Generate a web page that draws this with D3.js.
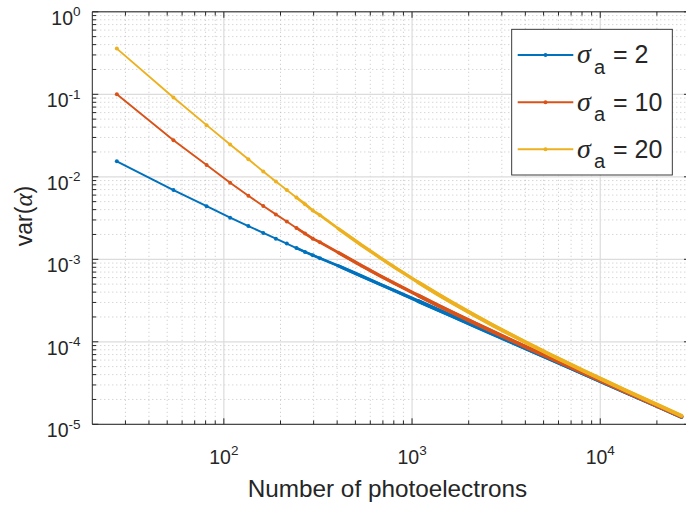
<!DOCTYPE html>
<html><head><meta charset="utf-8">
<script src="https://cdn.jsdelivr.net/npm/d3@7"></script>
<style>
body{margin:0;background:#fff}
svg{display:block}
text{font-family:"Liberation Sans",Arial,Helvetica,sans-serif;fill:#262626}
</style>
</head><body>
<svg id="chart" width="686" height="508"></svg>
<script>
// ---- data ----
const photoelectrons = [27,54,81,108,135,162,189,216,243,270,297,324,405,540,675,810,1080,1350,1620,2160,2700,3240,4050,5400,6750,8100,10800,13500,16200,20250,27000];
const varSigma2  = [0.0154,0.0069,0.0044,0.0032,0.00253,0.00209,0.00178,0.00155,0.00137,0.00123,0.00112,0.00103,0.000835,0.000625,0.000499,0.000416,0.000311,0.000248,0.000207,0.000155,0.000124,0.000103,8.24e-5,6.18e-5,4.94e-5,4.12e-5,3.09e-5,2.47e-5,2.06e-5,1.65e-5,1.23e-5];
const varSigma10 = [0.100,0.0277,0.0139,0.00845,0.0059,0.00442,0.0035,0.00287,0.0024,0.00205,0.00178,0.00161,0.00121,0.000833,0.000632,0.000508,0.000363,0.000282,0.00023,0.000168,0.000132,0.000109,8.61e-5,6.39e-5,5.08e-5,4.22e-5,3.14e-5,2.5e-5,2.08e-5,1.66e-5,1.24e-5];
const varSigma20 = [0.358,0.0915,0.0423,0.0247,0.0163,0.0116,0.00877,0.0069,0.00561,0.00466,0.0039,0.00343,0.00236,0.00148,0.00105,0.000796,0.000525,0.000385,0.000302,0.000208,0.000158,0.000127,9.77e-5,7.03e-5,5.49e-5,4.5e-5,3.31e-5,2.61e-5,2.16e-5,1.71e-5,1.27e-5];
const sigmaLabels = ["2","10","20"];
const xTickValues = [1e2,1e3,1e4];
const yTickValues = [1e-5,1e-4,1e-3,1e-2,1e-1,1];
const xDomain = [20,30000];
const yDomain = [1e-5,1];
const xLabel = "Number of photoelectrons";

// ---- layout ----
const L = 92.3, T = 11.8, B = 424.3;
const decadeX = 188.2;
const R = L + Math.log10(xDomain[1]/xDomain[0]) * decadeX;
const colors = ["#0072BD","#D95319","#EDB120"];

const svg = d3.select("#chart");
const x = d3.scaleLog().domain(xDomain).range([L, R]);
const y = d3.scaleLog().domain(yDomain).range([B, T]);

svg.append("rect").attr("width",686).attr("height",508).attr("fill","#fff");

svg.append("defs").append("clipPath").attr("id","plotclip")
  .append("rect").attr("x",L).attr("y",T).attr("width",R-L).attr("height",B-T);

// minor values
const minorX = [], minorY = [];
for (let d = 1; d <= 4; d++) for (let m = 2; m <= 9; m++) {
  const v = m * Math.pow(10, d);
  if (v > xDomain[0] && v < xDomain[1]) minorX.push(v);
}
for (let d = -5; d < 0; d++) for (let m = 2; m <= 9; m++) minorY.push(m * Math.pow(10, d));

const grid = svg.append("g");
grid.selectAll(".mgx").data(minorX).join("line")
  .attr("x1",d=>x(d)).attr("x2",d=>x(d)).attr("y1",T).attr("y2",B)
  .attr("stroke","#b8b8b8").attr("stroke-width",0.8).attr("stroke-dasharray","1,3");
grid.selectAll(".mgy").data(minorY).join("line")
  .attr("y1",d=>y(d)).attr("y2",d=>y(d)).attr("x1",L).attr("x2",R)
  .attr("stroke","#b8b8b8").attr("stroke-width",0.8).attr("stroke-dasharray","1,3");
grid.selectAll(".gx").data(xTickValues).join("line")
  .attr("x1",d=>x(d)).attr("x2",d=>x(d)).attr("y1",T).attr("y2",B)
  .attr("stroke","#dcdcdc").attr("stroke-width",1.2);
grid.selectAll(".gy").data(yTickValues).join("line")
  .attr("y1",d=>y(d)).attr("y2",d=>y(d)).attr("x1",L).attr("x2",R)
  .attr("stroke","#dcdcdc").attr("stroke-width",1.2);

// series (dense '.' markers merge into a thicker band as spacing shrinks)
const series = [varSigma2, varSigma10, varSigma20].map((vals,i)=>({
  color: colors[i], label: sigmaLabels[i],
  pts: photoelectrons.map((n,j)=>({n, v: vals[j]}))
}));
const line = d3.line().x(d=>x(d.n)).y(d=>y(d.v));
const plot = svg.append("g").attr("clip-path","url(#plotclip)");
const bands = [[0,1.9],[243,2.7],[405,3.4],[1080,3.9]];
series.forEach(s=>{
  const g = plot.append("g");
  bands.forEach(([from,w])=>{
    g.append("path").attr("d", line(s.pts.filter(p=>p.n>=from))).attr("fill","none")
      .attr("stroke", s.color).attr("stroke-width",w)
      .attr("stroke-linejoin","round").attr("stroke-linecap","round");
  });
  g.selectAll("circle").data(s.pts.filter(p=>p.n<=324)).join("circle")
    .attr("cx",d=>x(d.n)).attr("cy",d=>y(d.v)).attr("r",2.0).attr("fill",s.color);
});

// axes box
const ax = svg.append("g").attr("stroke","#262626").attr("stroke-width",1).attr("fill","none");
ax.append("line").attr("x1",L).attr("x2",R).attr("y1",B).attr("y2",B);
ax.append("line").attr("x1",L).attr("x2",R).attr("y1",T).attr("y2",T);
ax.append("line").attr("x1",L).attr("x2",L).attr("y1",T).attr("y2",B);
ax.append("line").attr("x1",R).attr("x2",R).attr("y1",T).attr("y2",B);
const tickMaj = 6, tickMin = 3.8;
[[xTickValues,tickMaj],[minorX,tickMin]].forEach(([vals,len])=>{
  vals.forEach(v=>{
    ax.append("line").attr("x1",x(v)).attr("x2",x(v)).attr("y1",B).attr("y2",B-len);
    ax.append("line").attr("x1",x(v)).attr("x2",x(v)).attr("y1",T).attr("y2",T+len);
  });
});
[[yTickValues,tickMaj],[minorY,tickMin]].forEach(([vals,len])=>{
  vals.forEach(v=>{
    ax.append("line").attr("y1",y(v)).attr("y2",y(v)).attr("x1",L).attr("x2",L+len);
    ax.append("line").attr("y1",y(v)).attr("y2",y(v)).attr("x1",R).attr("x2",R-len);
  });
});

// tick labels
const xl = svg.append("g").selectAll("text").data(xTickValues).join("text")
  .attr("x",d=>x(d)).attr("y",464.3).attr("text-anchor","middle").attr("font-size",19.5);
xl.append("tspan").text("10");
xl.append("tspan").attr("dy",-9.5).attr("font-size",13.5).text(d=>Math.round(Math.log10(d)));

const yl = svg.append("g").selectAll("text").data(yTickValues).join("text")
  .attr("x",80.5).attr("y",d=>y(d)+12.7).attr("text-anchor","end").attr("font-size",19.5);
yl.append("tspan").text("10");
yl.append("tspan").attr("dy",-8.5).attr("font-size",13.5).text(d=>{
  const e = Math.round(Math.log10(d)); return e < 0 ? "-" + (-e) : String(e);
});

// axis labels
svg.append("text").attr("x",387.5).attr("y",497.3).attr("text-anchor","middle")
  .attr("font-size",24.3).text(xLabel);
const ylab = svg.append("text").attr("transform","translate(31.5,216) rotate(-90)")
  .attr("text-anchor","middle").attr("font-size",23);
ylab.append("tspan").text("var(");
ylab.append("tspan").attr("font-family","'Liberation Serif','Times New Roman',serif").attr("font-style","italic").attr("font-size",25).text("α");
ylab.append("tspan").text(")");

// legend
const lg = svg.append("g");
lg.append("rect").attr("x",511.7).attr("y",29.3).attr("width",160.6).attr("height",145.7)
  .attr("fill","#fff").attr("stroke","#262626").attr("stroke-width",0.9);
const rowY = [55,102.3,149.3];
series.forEach((s,i)=>{
  const yy = rowY[i];
  lg.append("line").attr("x1",517.7).attr("x2",573.3).attr("y1",yy).attr("y2",yy)
    .attr("stroke",s.color).attr("stroke-width",1.9);
  lg.append("circle").attr("cx",545.5).attr("cy",yy).attr("r",2.0).attr("fill",s.color);
  const t = lg.append("text").attr("y",yy+8.3);
  t.append("tspan").attr("x",577).attr("font-family","'Liberation Serif','Times New Roman',serif")
    .attr("font-style","italic").attr("font-size",28).text("σ");
  t.append("tspan").attr("x",594).attr("dy",10.5).attr("font-size",20).text("a");
  t.append("tspan").attr("x",613).attr("dy",-10.5).attr("font-size",25).text("= " + s.label);
});
</script>
</body></html>
